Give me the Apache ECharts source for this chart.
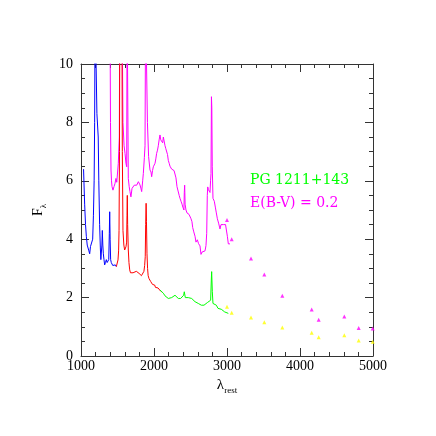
<!DOCTYPE html>
<html>
<head>
<meta charset="utf-8">
<script src="https://cdn.jsdelivr.net/npm/echarts@6/dist/echarts.min.js"></script>
<style>
  html, body { margin: 0; padding: 0; background: #fff; }
  #chart { width: 436px; height: 436px; }
</style>
</head>
<body>
<div id="chart"></div>
<script>
// blue segment (Lya region)
const blueWave = [1035, 1050, 1062, 1073, 1085, 1096, 1108, 1119, 1130, 1141, 1151, 1160, 1170, 1180, 1187, 1193, 1212, 1218, 1228, 1236, 1244, 1255, 1265, 1272, 1279, 1286, 1292, 1299, 1306, 1315, 1324, 1335, 1347, 1358, 1370, 1380, 1388, 1393, 1399, 1406, 1415, 1425, 1435, 1443, 1455, 1470, 1484];
const blueFlux = [6.4, 5.2, 4.5, 4.1, 3.8, 3.8, 3.6, 3.5, 3.75, 3.7, 3.75, 4.0, 4.8, 6.0, 8.0, 12, 12, 8.3, 8.3, 7.5, 6.0, 4.5, 3.7, 3.3, 3.3, 3.8, 4.3, 3.8, 3.5, 3.3, 3.12, 3.2, 3.3, 3.2, 3.17, 3.3, 4.2, 4.94, 4.0, 3.3, 3.2, 3.17, 3.1, 3.06, 3.1, 3.12, 3.06];

// red segment
const redWave = [1484, 1495, 1507, 1515, 1521, 1527, 1532, 1560, 1566, 1575, 1587, 1598, 1608, 1616, 1625, 1630, 1634, 1639, 1648, 1657, 1667, 1678, 1689, 1700, 1713, 1726, 1740, 1758, 1775, 1795, 1805, 1817, 1828, 1840, 1850, 1862, 1872, 1880, 1886, 1892, 1897, 1904, 1912, 1920, 1932, 1945, 1955, 1968, 1980, 1995, 2009, 2020, 2032, 2043, 2055, 2066, 2080, 2092, 2105];
const redFlux = [3.06, 3.1, 3.29, 3.6, 4.3, 7, 12, 12, 7, 4.3, 3.8, 3.63, 3.6, 3.74, 3.9, 4.8, 5.5, 4.5, 3.63, 3.2, 2.95, 2.85, 2.83, 2.9, 2.85, 2.87, 2.85, 2.9, 2.85, 2.83, 2.87, 2.87, 2.75, 2.7, 2.8, 2.9, 3.1, 3.4, 4.5, 5.23, 4.6, 3.5, 3.0, 2.75, 2.65, 2.6, 2.55, 2.5, 2.45, 2.4, 2.43, 2.35, 2.38, 2.3, 2.33, 2.28, 2.3, 2.22, 2.2];

// green segment
const greenWave = [2082, 2096, 2128, 2151, 2174, 2196, 2219, 2242, 2265, 2288, 2311, 2333, 2347, 2365, 2388, 2406, 2415, 2429, 2447, 2470, 2493, 2516, 2539, 2562, 2584, 2607, 2630, 2648, 2662, 2685, 2708, 2731, 2753, 2776, 2785, 2790, 2799, 2808, 2831, 2854, 2877, 2900, 2922, 2945, 2968, 2991, 3018];
const greenFlux = [2.26, 2.2, 2.15, 2.06, 2.03, 1.97, 1.94, 2.0, 2.03, 2.08, 2.08, 1.97, 1.91, 1.97, 2.0, 2.08, 2.2, 2.0, 2.0, 2.0, 2.0, 1.97, 1.91, 1.86, 1.83, 1.8, 1.86, 1.74, 1.69, 1.74, 1.8, 1.83, 1.86, 1.91, 2.6, 2.89, 2.2, 1.8, 1.8, 1.74, 1.63, 1.57, 1.6, 1.57, 1.51, 1.46, 1.46];

// dereddened spectrum, E(B-V) = 0.2
const magWave = [1397, 1404, 1411, 1418, 1425, 1438, 1452, 1465, 1479, 1490, 1500, 1511, 1525, 1531, 1562, 1575, 1590, 1603, 1616, 1626, 1632, 1642, 1648, 1660, 1671, 1684, 1699, 1717, 1730, 1740, 1763, 1786, 1808, 1820, 1831, 1845, 1854, 1868, 1877, 1885, 1900, 1910, 1926, 1945, 1959, 1968, 1980, 1991, 2005, 2014, 2025, 2036, 2048, 2059, 2070, 2082, 2093, 2105, 2119, 2128, 2137, 2151, 2162, 2174, 2185, 2196, 2208, 2219, 2233, 2242, 2260, 2275, 2288, 2301, 2315, 2330, 2345, 2356, 2370, 2384, 2395, 2410, 2415, 2420, 2426, 2438, 2452, 2465, 2480, 2493, 2507, 2520, 2530, 2545, 2562, 2575, 2585, 2594, 2610, 2630, 2644, 2658, 2670, 2685, 2699, 2712, 2722, 2730, 2736, 2745, 2753, 2767, 2775, 2781, 2787, 2792, 2798, 2808, 2826, 2840, 2854, 2868, 2885, 2904, 2918, 2935, 2950, 2963, 2980, 2995, 3005, 3018, 3041];
const magFlux = [12, 8, 6.37, 6.0, 5.8, 5.68, 5.8, 5.9, 6.08, 5.95, 6.0, 6.6, 7.5, 12, 12, 8, 7.2, 6.94, 6.6, 6.48, 12, 12, 6.08, 5.8, 5.63, 5.45, 5.74, 5.68, 5.85, 5.91, 5.85, 5.97, 5.86, 5.75, 5.63, 6.0, 6.25, 6.8, 7.2, 12, 12, 8, 6.83, 6.37, 6.3, 6.14, 6.35, 6.48, 6.5, 6.6, 6.75, 6.94, 7.05, 7.2, 7.4, 7.57, 7.4, 7.45, 7.3, 7.5, 7.45, 7.2, 7.1, 7.05, 6.9, 6.7, 6.6, 6.5, 6.45, 6.4, 6.4, 6.35, 6.3, 6.1, 5.8, 5.65, 5.5, 5.4, 5.3, 5.2, 5.1, 5.0, 5.6, 5.85, 5.2, 5.0, 4.9, 4.85, 4.85, 4.8, 4.7, 4.6, 4.4, 4.25, 4.1, 3.9, 3.95, 3.98, 3.85, 3.77, 3.48, 3.56, 3.55, 3.6, 3.6, 3.78, 4.2, 5.5, 5.79, 5.7, 5.75, 5.6, 6.0, 6.25, 8.88, 8.5, 6.5, 5.4, 5.3, 5.1, 4.9, 4.7, 4.55, 4.35, 4.5, 4.5, 4.5, 4.45, 4.5, 4.5, 4.1, 3.84, 3.84];

// photometric points
const photWave = [3000, 3064, 3329, 3511, 3758, 4160, 4256, 4607, 4804, 4996];
const photFlux = [1.69, 1.48, 1.32, 1.16, 0.98, 0.80, 0.64, 0.71, 0.53, 0.49];
const photFluxDered = [4.66, 4.0, 3.34, 2.79, 2.06, 1.59, 1.24, 1.35, 0.96, 0.94];

const xTicks = [1000, 2000, 3000, 4000, 5000];
const yTicks = [0, 2, 4, 6, 8, 10];

const zip = (a, b) => a.map((v, i) => [v, b[i]]);

const serif = "Liberation Serif";
const axisColor = "#333";

function makeAxis(extra) {
  return Object.assign({
    type: "value",
    axisLine: { show: true, onZero: false, lineStyle: { color: axisColor, width: 1 } },
    axisTick: { show: true, inside: true, length: 8, lineStyle: { color: axisColor } },
    minorTick: { show: true, length: 4, lineStyle: { color: axisColor } },
    splitLine: { show: false },
    axisLabel: { show: false }
  }, extra);
}

function lineSerie(name, wave, flux, color) {
  return {
    name,
    type: "line",
    data: zip(wave, flux),
    showSymbol: false,
    clip: true,
    lineStyle: { color, width: 1 },
    itemStyle: { color },
    z: 2
  };
}

function pointSerie(name, wave, flux, color) {
  return {
    name,
    type: "scatter",
    data: zip(wave, flux),
    symbol: "triangle",
    symbolSize: 4,
    itemStyle: { color },
    z: 3
  };
}

const chart = echarts.init(document.getElementById("chart"));

chart.setOption({
  animation: false,
  backgroundColor: "#fff",
  grid: { left: 81, right: 63, top: 64, bottom: 80, containLabel: false },
  xAxis: [
    makeAxis({
      min: xTicks[0], max: xTicks[xTicks.length - 1], interval: 1000,
      position: "bottom",
      minorTick: { show: true, splitNumber: 5, length: 4, lineStyle: { color: axisColor } },
      axisLabel: { show: true, color: "#000", fontFamily: serif, fontSize: 14, margin: 3, formatter: v => String(v) },
      name: "{l|λ}{s|rest}",
      nameLocation: "middle",
      nameGap: 19,
      nameTextStyle: {
        rich: {
          l: { fontFamily: serif, fontSize: 15, color: "#000", lineHeight: 20, verticalAlign: "middle" },
          s: { fontFamily: serif, fontSize: 9, color: "#000", lineHeight: 20, verticalAlign: "bottom" }
        }
      }
    }),
    makeAxis({
      min: xTicks[0], max: xTicks[xTicks.length - 1], interval: 1000,
      position: "top",
      minorTick: { show: true, splitNumber: 5, length: 4, lineStyle: { color: axisColor } }
    })
  ],
  yAxis: [
    makeAxis({
      min: yTicks[0], max: yTicks[yTicks.length - 1], interval: 2,
      position: "left",
      minorTick: { show: true, splitNumber: 4, length: 4, lineStyle: { color: axisColor } },
      axisLabel: { show: true, color: "#000", fontFamily: serif, fontSize: 14, margin: 8, formatter: v => String(v) },
      name: "{f|F}{s|λ}",
      nameLocation: "middle",
      nameRotate: 90,
      nameGap: 32,
      nameTextStyle: {
        rich: {
          f: { fontFamily: serif, fontSize: 14, color: "#000", lineHeight: 20, verticalAlign: "middle" },
          s: { fontFamily: serif, fontSize: 9, color: "#000", lineHeight: 20, verticalAlign: "bottom" }
        }
      }
    }),
    makeAxis({
      min: yTicks[0], max: yTicks[yTicks.length - 1], interval: 2,
      position: "right",
      minorTick: { show: true, splitNumber: 4, length: 4, lineStyle: { color: axisColor } }
    })
  ],
  graphic: [
    {
      type: "text",
      left: 250, top: 173,
      style: { text: "PG 1211+143", fill: "#00ff00", font: "14px 'DejaVu Serif'" }
    },
    {
      type: "text",
      left: 250, top: 196,
      style: { text: "E(B-V) = 0.2", fill: "#ff00ff", font: "14px 'DejaVu Serif'" }
    }
  ],
  series: [
    lineSerie("dereddened", magWave, magFlux, "#ff00ff"),
    lineSerie("blue", blueWave, blueFlux, "#0000ff"),
    lineSerie("red", redWave, redFlux, "#ff0000"),
    lineSerie("green", greenWave, greenFlux, "#00ff00"),
    pointSerie("phot", photWave, photFlux, "#ffff00"),
    pointSerie("phot dered", photWave, photFluxDered, "#ff00ff")
  ]
});
</script>
</body>
</html>
